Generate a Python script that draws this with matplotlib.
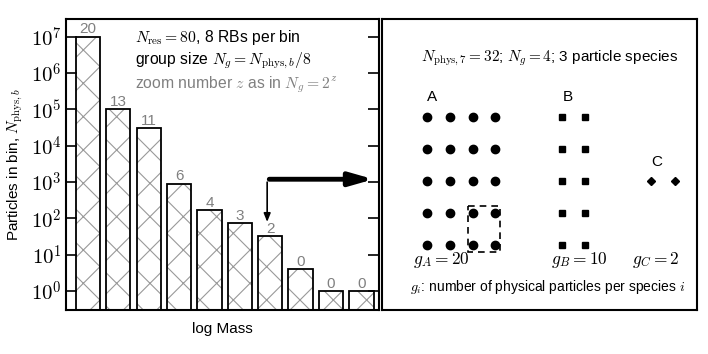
import numpy as np
import matplotlib
matplotlib.use("Agg")
import matplotlib.pyplot as plt
from matplotlib.patches import Rectangle
from matplotlib.ticker import FuncFormatter

plt.rcParams['mathtext.fontset'] = 'cm'
plt.rcParams['font.family'] = ['Liberation Sans', 'DejaVu Sans']
plt.rcParams['hatch.linewidth'] = 0.8

# particles per mass bin and zoom number per bin
n_phys = [1e7, 1e5, 3e4, 900, 170, 75, 32, 4, 1, 1]
zoom_num = [20, 13, 11, 6, 4, 3, 2, 0, 0, 0]

# species in the zoomed bin
species = ['A', 'B', 'C']
g_count = [20, 10, 2]
n_cols = [4, 2, 2]
markers = ['o', 's', 'D']
marker_size = [6, 4.3, 3.8]

W, H = 708, 354
fig = plt.figure(figsize=(W / 100, H / 100), dpi=100)

# ---- left panel: histogram of particles per bin
ax = fig.add_axes([66 / W, 1 - 310 / H, 313 / W, 291 / H])
x = np.arange(len(n_phys))
ax.bar(x, n_phys, width=0.8, bottom=0, color='white', edgecolor='#999999',
       hatch='x', linewidth=0, log=True)
ax.bar(x, n_phys, width=0.8, bottom=0, fill=False, edgecolor='black',
       linewidth=1.3, log=True)
for xi, h, z in zip(x, n_phys, zoom_num):
    ax.text(xi, h * 1.02, str(z), ha='center', va='bottom', color='#808080',
            fontsize=11)
ax.set_yscale('log')
ax.set_ylim(10 ** -0.52, 10 ** 7.49)
ax.set_xlim(-0.72, 9.58)
ax.set_xticks([])
ax.set_yticks([10.0 ** k for k in range(8)])
ax.yaxis.set_major_formatter(FuncFormatter(lambda v, p: r'$10^{%d}$' % round(np.log10(v))))
ax.minorticks_off()
ax.tick_params(axis='y', which='major', direction='in', length=8, width=1.2,
               right=True, labelsize=15, pad=3)
for s in ax.spines.values():
    s.set_linewidth(1.5)
ax.set_xlabel('log Mass', fontsize=11, labelpad=9)
ax.set_ylabel(r'Particles in bin, $N_{\rm phys,\mathit{b}}$', fontsize=11,
              labelpad=4)

ax.text(0.22, 0.935, r'$N_{\rm res}=80$, 8 RBs per bin', transform=ax.transAxes,
        fontsize=11.3, va='center')
ax.text(0.22, 0.855, r'group size $N_g=N_{\rm phys,\mathit{b}}/8$',
        transform=ax.transAxes, fontsize=11.3, va='center')
ax.text(0.22, 0.773, r'zoom number $z$ as in $N_g=2^z$', transform=ax.transAxes,
        fontsize=11.3, va='center', color='#808080')

# arrows pointing from bin 7 to the zoomed panel
ax.annotate('', xy=(9.4, 1200), xytext=(5.97, 1200),
            arrowprops=dict(arrowstyle='-|>,head_length=1.4,head_width=0.4',
                            lw=3.5, color='black', shrinkA=0, shrinkB=0),
            annotation_clip=False)
ax.annotate('', xy=(5.9, 80), xytext=(5.9, 1000),
            arrowprops=dict(arrowstyle='-|>,head_length=0.5,head_width=0.2',
                            lw=1.2, color='black', shrinkA=0, shrinkB=0))

# ---- right panel: particle species in the bin
ax2 = fig.add_axes([382 / W, 1 - 310 / H, 315 / W, 291 / H])
ax2.set_xlim(0, 13.88)
ax2.set_ylim(6.04, -3.05)
ax2.set_xticks([])
ax2.set_yticks([])
for s in ax2.spines.values():
    s.set_linewidth(1.5)

col_start = [2.0, 7.95, 11.85]
label_pos = [(2.2, -0.62), (8.18, -0.62), (12.1, 1.41)]
g_pos = [1.37, 7.44, 11.0]
for sp, g, nc, m, ms, c0, lp, gx in zip(species, g_count, n_cols, markers,
                                       marker_size, col_start, label_pos, g_pos):
    n_rows = g // nc
    if g == 2:
        rows = [2]
    else:
        rows = list(range(n_rows))
    cols = np.arange(nc) * (1.05 if g == 2 else 1.0) + c0
    xx, yy = np.meshgrid(cols, rows)
    ax2.plot(xx.ravel(), yy.ravel(), linestyle='none', marker=m,
             markersize=ms, color='black')
    ax2.text(lp[0], lp[1], sp, fontsize=11, ha='center', va='center')
    ax2.text(gx, 4.48, r'$g_{%s}=%d$' % (sp, g), fontsize=12.5, va='center')

# one group of N_g = 4 particles
ax2.add_patch(Rectangle((3.79, 2.79), 1.41, 1.43, fill=False,
                        linestyle=(0, (4, 3)), linewidth=1.2, edgecolor='black'))

ax2.text(7.36, -1.83, r'$N_{\rm phys,7}=32$; $N_g=4$; 3 particle species',
         fontsize=11, ha='center', va='center')
ax2.text(7.3, 5.32, r'$g_i$: number of physical particles per species $i$',
         fontsize=10, ha='center', va='center')

fig.savefig('out.png', dpi=100)
